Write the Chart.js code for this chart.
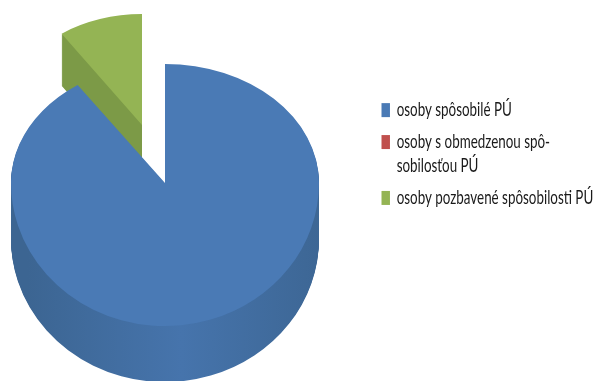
<!DOCTYPE html>
<html><head><meta charset="utf-8">
<style>html,body{margin:0;padding:0;background:#fff}#w{width:595px;height:381px;position:relative}</style>
<script src="https://cdn.jsdelivr.net/npm/chart.js@4"></script>
</head><body><div id="w"><canvas id="c"></canvas></div>
<script>
const categories = [["osoby spôsobilé PÚ"], ["osoby s obmedzenou spô-", "sobilosťou PÚ"], ["osoby pozbavené spôsobilosti PÚ"]];
const values = [90.4, 0, 9.6];
const faceColors = ["#4a7ab5", "#c0504d", "#94b454"];
const sideEdgeColors = ["#3c6592", "#a03f3c", "#7c9a47"];
const sideMidColors = ["#4674ac", "#a03f3c", "#7c9a47"];
// [centre x, centre y, x scale, y scale above, y scale below, extrusion depth]
const placement = [[165,183,1,0.773,0.929,56],[165,183,1,0.773,0.929,0],[142,125,0.92,0.72,0.72,52]];
const legendSqueeze = 0.705, legendLeft = 381.5;

const tilt = {
  id: "tilt",
  beforeInit(chart) {
    const legend = chart.legend;
    if (!legend) return;
    legend.draw = function () {
      const ctx = legend.ctx;
      ctx.save();
      ctx.translate(legendLeft, 0);
      ctx.scale(legendSqueeze, 1);
      ctx.translate(-(legend.left + legend.options.labels.padding), 0);
      legend._draw();
      ctx.restore();
    };
  },
  beforeDatasetsDraw(chart) {
    const ctx = chart.ctx, arcs = chart.getDatasetMeta(0).data;
    const paint = (arc, i, dy, color) => {
      const [x, y, sx, up, down] = placement[i];
      const cx = arc.x, cy = arc.y, saved = arc.options;
      arc.options = {...saved, backgroundColor: color, borderWidth: 0};
      [[up, -1], [down, 1]].forEach(([sy, half]) => {
        ctx.save();
        ctx.beginPath();
        if (half < 0) ctx.rect(0, 0, chart.width, y + dy);
        else ctx.rect(0, y + dy, chart.width, chart.height);
        ctx.clip();
        ctx.translate(x, y + dy);
        ctx.scale(sx, sy);
        ctx.translate(-cx, -cy);
        arc.draw(ctx);
        ctx.restore();
      });
      arc.options = saved;
    };
    [2, 0].forEach(i => {
      if (!values[i]) return;
      const r = arcs[i].outerRadius;
      const g = ctx.createLinearGradient(placement[i][0] - r, 0, placement[i][0] + r, 0);
      g.addColorStop(0, sideEdgeColors[i]);
      g.addColorStop(0.5, sideMidColors[i]);
      g.addColorStop(1, sideEdgeColors[i]);
      for (let d = placement[i][5]; d > 0; d--) paint(arcs[i], i, d, g);
      paint(arcs[i], i, 0, faceColors[i]);
    });
    return false;
  }
};

new Chart(document.getElementById("c"), {
  type: "pie",
  data: { labels: categories, datasets: [{ data: values, backgroundColor: faceColors, borderWidth: 0, radius: 154 }] },
  options: {
    responsive: true, maintainAspectRatio: false, animation: false,
    layout: { padding: { bottom: 68, right: 0 } },
    plugins: {
      tooltip: { enabled: false },
      legend: {
        position: "right",
        labels: { boxWidth: 12, boxHeight: 14, padding: 8, color: "#1a1a1a",
          font: { family: "Lato", size: 19, lineHeight: 1.26 } }
      }
    }
  },
  plugins: [tilt]
});
</script></body></html>
